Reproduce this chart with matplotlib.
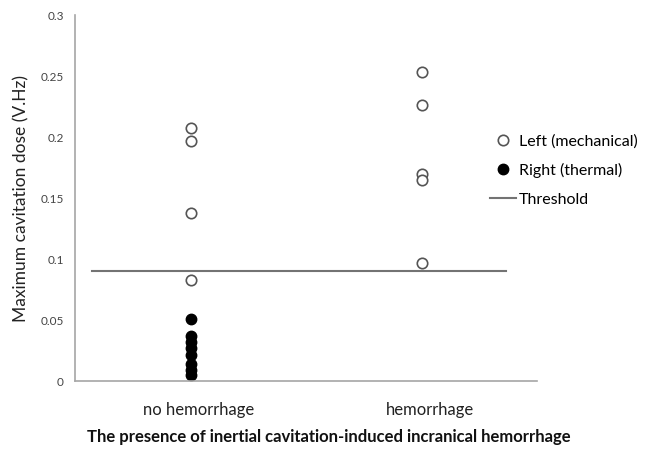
import matplotlib
matplotlib.use("Agg")
import matplotlib.pyplot as plt
import matplotlib.transforms as mtransforms

plt.rcParams["font.family"] = ["Lato", "DejaVu Sans"]

categories = ["no hemorrhage", "hemorrhage"]

# open circles: left hemisphere (mechanical)
left_no = [0.207, 0.197, 0.138, 0.083]
left_yes = [0.253, 0.226, 0.170, 0.165, 0.097]

# filled circles: right hemisphere (thermal)
right_no = [0.051, 0.037, 0.032, 0.027, 0.021, 0.014, 0.009, 0.005]

threshold = 0.09
threshold_x = [0.574, 2.366]

yticks = [0, 0.05, 0.1, 0.15, 0.2, 0.25, 0.3]
ytick_labels = ["0", "0.05", "0.1", "0.15", "0.2", "0.25", "0.3"]

fig = plt.figure(figsize=(6.45, 4.55), dpi=100)
ax = fig.add_axes([0.1163, 0.1626, 0.7163, 0.8044])

ax.plot([1] * len(left_no) + [2] * len(left_yes), left_no + left_yes,
        linestyle="none", marker="o", markersize=7.5,
        markerfacecolor="white", markeredgecolor="#555555",
        markeredgewidth=1.2, label="Left (mechanical)")
ax.plot([1] * len(right_no), right_no,
        linestyle="none", marker="o", markersize=7.5,
        color="black", label="Right (thermal)")
ax.plot(threshold_x, [threshold, threshold], color="#737373",
        linewidth=1.5, label="Threshold")

ax.set_xlim(0.5, 2.5)
ax.set_ylim(0, 0.3)
ax.set_xticks([1, 2])
ax.set_xticklabels(categories, fontsize=12, color="#222222")
ax.set_yticks(yticks)
ax.set_yticklabels(ytick_labels, fontsize=8.5, color="#444444")
ax.tick_params(length=0, pad=8)
ax.tick_params(axis="x", pad=15)

# category labels sit a little right of the points in the original
shift = mtransforms.ScaledTranslation(0.08, 0, fig.dpi_scale_trans)
for lbl in ax.get_xticklabels():
    lbl.set_transform(lbl.get_transform() + shift)

for side in ["top", "right"]:
    ax.spines[side].set_visible(False)
for side in ["left", "bottom"]:
    ax.spines[side].set_color("#a6a6a6")
    ax.spines[side].set_linewidth(1.2)

ax.set_ylabel("Maximum cavitation dose (V.Hz)", fontsize=12.5, color="#222222",
              labelpad=8)
fig.text(0.51, 1 - 437 / 455,
         "The presence of inertial cavitation-induced incranical hemorrhage",
         fontsize=12, fontweight="bold", color="#111111",
         ha="center", va="center")

leg = ax.legend(loc="upper left", bbox_to_anchor=(0.76, 0.705),
                bbox_transform=fig.transFigure, frameon=False,
                fontsize=11.5, handlelength=1.6, handletextpad=0.2,
                labelspacing=0.9, borderaxespad=0, borderpad=0)

fig.savefig("out.png", dpi=100)
